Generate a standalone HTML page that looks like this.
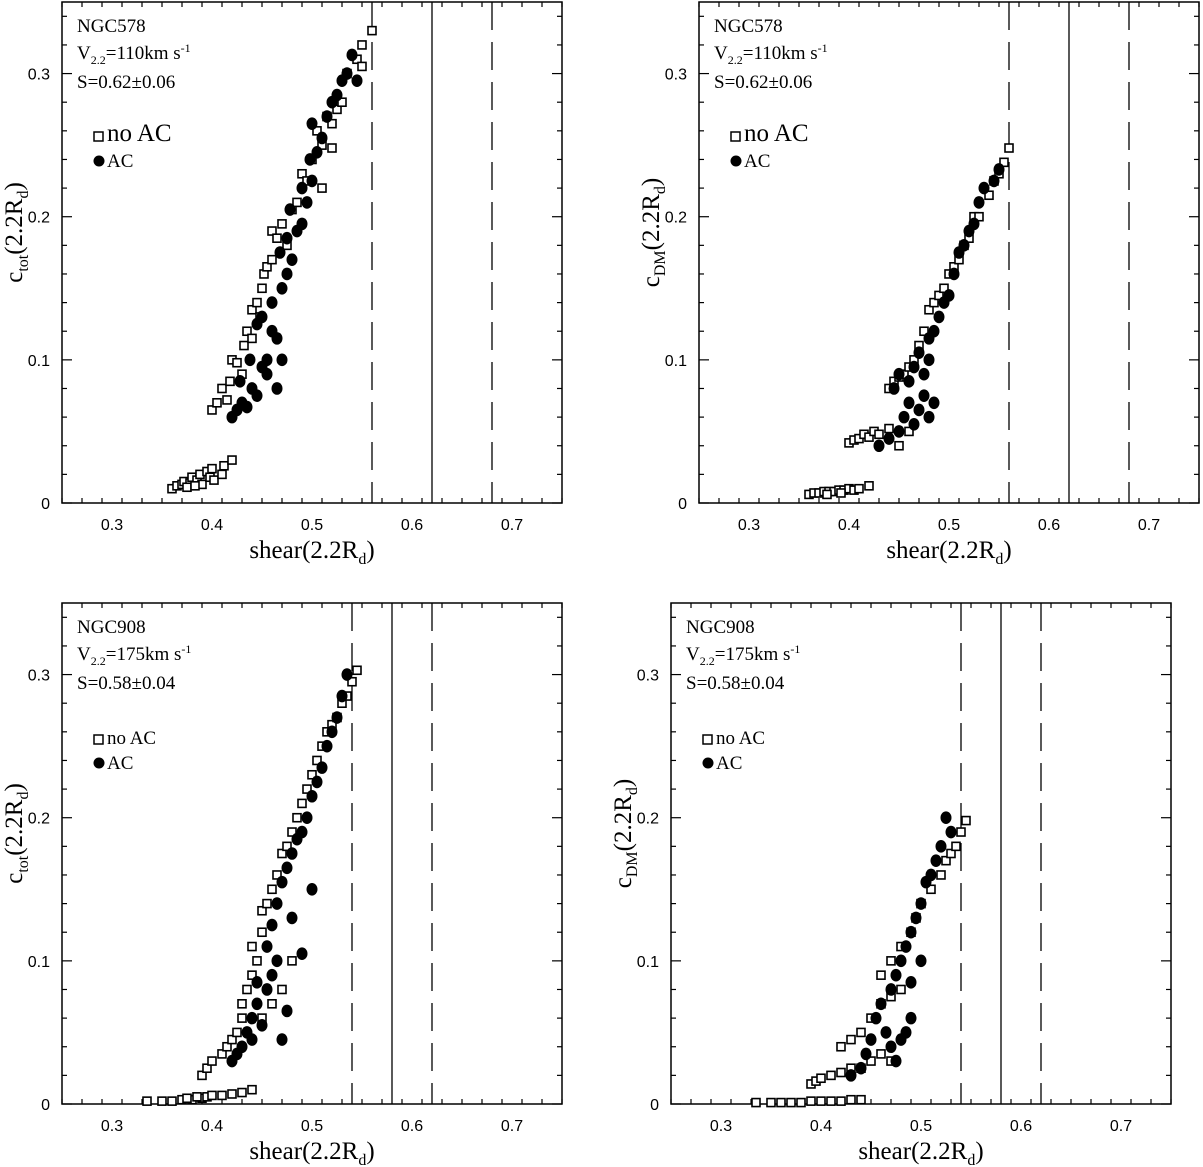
<!DOCTYPE html>
<html><head><meta charset="utf-8"><style>
body{margin:0;background:#fff}
svg{display:block}
.tick{font-family:"Liberation Sans",sans-serif;font-size:16px}
.ser{font-family:"Liberation Serif",serif}
</style></head><body>
<svg id="fig" width="1203" height="1167" xmlns="http://www.w3.org/2000/svg"></svg>
<script>
const xTicks=[0.3,0.4,0.5,0.6,0.7];
const xTickLabels=["0.3","0.4","0.5","0.6","0.7"];
const yTicks=[0,0.1,0.2,0.3];
const yTickLabels=["0","0.1","0.2","0.3"];
const tlNoAC=[[0.36,0.010],[0.365,0.012],[0.37,0.013],[0.372,0.015],[0.378,0.014],[0.38,0.018],[0.385,0.016],[0.388,0.020],[0.39,0.013],[0.395,0.022],[0.398,0.018],[0.40,0.024],[0.402,0.016],[0.41,0.020],[0.412,0.026],[0.42,0.030],[0.375,0.011],[0.383,0.012],
[0.40,0.065],[0.405,0.07],[0.41,0.08],[0.415,0.072],[0.418,0.085],[0.42,0.10],[0.425,0.098],[0.43,0.09],[0.432,0.11],[0.435,0.12],[0.44,0.115],[0.44,0.135],[0.445,0.14],[0.448,0.13],[0.45,0.15],[0.452,0.16],[0.455,0.165],[0.46,0.17],[0.46,0.19],[0.465,0.185],[0.47,0.195],[0.475,0.18],[0.48,0.205],[0.485,0.21],[0.49,0.23],[0.495,0.225],[0.50,0.24],[0.505,0.26],[0.51,0.22],[0.51,0.25],[0.515,0.27],[0.52,0.265],[0.525,0.275],[0.53,0.28],[0.535,0.30],[0.545,0.31],[0.55,0.305],[0.55,0.32],[0.56,0.33],[0.52,0.248]];
const tlAC=[[0.42,0.06],[0.425,0.065],[0.43,0.07],[0.435,0.067],[0.428,0.085],[0.44,0.08],[0.445,0.075],[0.438,0.10],[0.45,0.095],[0.455,0.10],[0.46,0.12],[0.445,0.125],[0.45,0.13],[0.465,0.115],[0.47,0.10],[0.46,0.14],[0.47,0.15],[0.475,0.16],[0.468,0.175],[0.48,0.17],[0.475,0.185],[0.485,0.19],[0.49,0.195],[0.478,0.205],[0.495,0.21],[0.49,0.22],[0.50,0.225],[0.498,0.24],[0.505,0.245],[0.51,0.255],[0.50,0.265],[0.515,0.27],[0.52,0.28],[0.525,0.285],[0.53,0.295],[0.535,0.30],[0.54,0.313],[0.545,0.295],[0.465,0.08],[0.455,0.09]];
const trNoAC=[[0.36,0.006],[0.365,0.007],[0.37,0.007],[0.375,0.008],[0.38,0.008],[0.385,0.008],[0.39,0.009],[0.395,0.009],[0.40,0.010],[0.405,0.009],[0.41,0.010],[0.42,0.012],[0.378,0.006],[0.392,0.007],
[0.40,0.042],[0.405,0.044],[0.41,0.045],[0.415,0.048],[0.42,0.046],[0.425,0.05],[0.43,0.048],[0.44,0.052],[0.44,0.08],[0.445,0.085],[0.45,0.088],[0.455,0.09],[0.46,0.095],[0.465,0.10],[0.47,0.11],[0.475,0.12],[0.48,0.135],[0.485,0.14],[0.49,0.145],[0.495,0.15],[0.50,0.16],[0.505,0.165],[0.51,0.17],[0.515,0.18],[0.52,0.185],[0.525,0.20],[0.53,0.20],[0.54,0.215],[0.545,0.225],[0.55,0.23],[0.555,0.238],[0.56,0.248],[0.45,0.04],[0.46,0.05]];
const trAC=[[0.43,0.04],[0.44,0.045],[0.45,0.05],[0.455,0.06],[0.46,0.07],[0.465,0.055],[0.47,0.065],[0.475,0.075],[0.48,0.06],[0.485,0.07],[0.46,0.085],[0.465,0.095],[0.47,0.105],[0.475,0.09],[0.48,0.10],[0.485,0.12],[0.48,0.115],[0.49,0.13],[0.495,0.14],[0.50,0.145],[0.505,0.16],[0.51,0.175],[0.515,0.18],[0.52,0.19],[0.525,0.195],[0.53,0.21],[0.535,0.22],[0.545,0.225],[0.55,0.233],[0.445,0.08],[0.45,0.09]];
const blNoAC=[[0.335,0.002],[0.35,0.002],[0.36,0.002],[0.37,0.003],[0.38,0.003],[0.39,0.004],[0.395,0.005],[0.40,0.006],[0.41,0.006],[0.42,0.007],[0.43,0.008],[0.44,0.01],[0.375,0.004],[0.385,0.005],
[0.39,0.02],[0.395,0.025],[0.40,0.03],[0.41,0.035],[0.415,0.04],[0.42,0.045],[0.425,0.05],[0.43,0.06],[0.43,0.07],[0.435,0.08],[0.44,0.09],[0.445,0.10],[0.44,0.11],[0.45,0.12],[0.45,0.135],[0.455,0.14],[0.46,0.15],[0.465,0.16],[0.47,0.175],[0.475,0.18],[0.48,0.19],[0.485,0.20],[0.49,0.21],[0.495,0.22],[0.50,0.23],[0.505,0.24],[0.51,0.25],[0.515,0.26],[0.52,0.265],[0.525,0.27],[0.53,0.28],[0.535,0.285],[0.54,0.295],[0.545,0.303],[0.46,0.07],[0.47,0.08],[0.45,0.06],[0.48,0.10]];
const blAC=[[0.42,0.03],[0.425,0.035],[0.43,0.04],[0.435,0.05],[0.44,0.045],[0.44,0.06],[0.445,0.07],[0.45,0.055],[0.455,0.08],[0.46,0.09],[0.465,0.10],[0.47,0.045],[0.475,0.065],[0.455,0.11],[0.46,0.125],[0.465,0.14],[0.47,0.155],[0.475,0.165],[0.48,0.175],[0.485,0.185],[0.49,0.19],[0.49,0.105],[0.495,0.20],[0.50,0.215],[0.50,0.15],[0.505,0.225],[0.51,0.235],[0.515,0.25],[0.52,0.26],[0.525,0.27],[0.53,0.285],[0.535,0.30],[0.48,0.13],[0.445,0.085]];
const brNoAC=[[0.335,0.001],[0.35,0.001],[0.36,0.001],[0.37,0.001],[0.38,0.001],[0.39,0.002],[0.40,0.002],[0.41,0.002],[0.42,0.002],[0.43,0.003],[0.44,0.003],
[0.39,0.014],[0.395,0.016],[0.40,0.018],[0.41,0.02],[0.42,0.022],[0.43,0.025],[0.44,0.025],[0.42,0.04],[0.43,0.045],[0.44,0.05],[0.45,0.06],[0.46,0.07],[0.47,0.075],[0.48,0.08],[0.46,0.09],[0.47,0.10],[0.48,0.11],[0.49,0.12],[0.495,0.13],[0.50,0.14],[0.51,0.15],[0.52,0.16],[0.525,0.17],[0.53,0.175],[0.535,0.18],[0.54,0.19],[0.545,0.198],[0.45,0.03],[0.46,0.035],[0.47,0.03]];
const brAC=[[0.43,0.02],[0.44,0.025],[0.445,0.035],[0.45,0.045],[0.455,0.06],[0.46,0.07],[0.465,0.05],[0.47,0.04],[0.475,0.03],[0.48,0.045],[0.485,0.05],[0.49,0.06],[0.47,0.08],[0.475,0.09],[0.48,0.10],[0.485,0.11],[0.49,0.12],[0.495,0.13],[0.50,0.14],[0.505,0.155],[0.51,0.16],[0.515,0.17],[0.52,0.18],[0.53,0.19],[0.525,0.2],[0.49,0.085],[0.5,0.1]];
const tlLines=[0.56,0.62,0.68], trLines=[0.56,0.62,0.68], blLines=[0.54,0.58,0.62], brLines=[0.54,0.58,0.62];

const NS="http://www.w3.org/2000/svg";
const svg=document.getElementById('fig');
function mk(tag,attrs,parent,text){const e=document.createElementNS(NS,tag);for(const k in attrs)e.setAttribute(k,attrs[k]);if(text!==undefined)e.textContent=text;parent.appendChild(e);return e;}

const panels=[
 {id:'top-left',L:62,T:2,ylab:'tot',gal:'NGC578',v:'110',s:'0.62±0.06',big:true,noac:tlNoAC,ac:tlAC,lines:tlLines},
 {id:'top-right',L:699,T:2,ylab:'DM',gal:'NGC578',v:'110',s:'0.62±0.06',big:true,noac:trNoAC,ac:trAC,lines:trLines},
 {id:'bottom-left',L:62,T:603,ylab:'tot',gal:'NGC908',v:'175',s:'0.58±0.04',big:false,noac:blNoAC,ac:blAC,lines:blLines},
 {id:'bottom-right',L:671,T:603,ylab:'DM',gal:'NGC908',v:'175',s:'0.58±0.04',big:false,noac:brNoAC,ac:brAC,lines:brLines}
];
panels.forEach(p=>{
 const W=500,H=501;
 const g=mk('g',{},svg);
 
 
 const X=v=>p.L+(v-0.25)/0.5*W;
 const Y=v=>p.T+H-v/0.35*H;
 const B=p.T+H;
 p.lines.forEach((v,i)=>{
  const ln=mk('line',{x1:X(v),x2:X(v),y1:p.T,y2:B,stroke:'#000','stroke-width':1.3,'stroke-dasharray':i===1?'none':'28,12'},g);
  
  
 });
 for(let k=0;k<=25;k++){const v=0.25+k*0.02;const x=X(v);const maj=Math.abs((v*10)-Math.round(v*10))<1e-6;const len=maj?10:5;
  mk('line',{x1:x,x2:x,y1:B,y2:B-len,stroke:'#000','stroke-width':1.2},g);
  mk('line',{x1:x,x2:x,y1:p.T,y2:p.T+len,stroke:'#000','stroke-width':1.2},g);}
 for(let k=0;k<=17;k++){const v=k*0.02;const y=Y(v);const maj=Math.abs(v*10-Math.round(v*10))<1e-6;const len=maj?10:5;
  mk('line',{x1:p.L,x2:p.L+len,y1:y,y2:y,stroke:'#000','stroke-width':1.2},g);
  mk('line',{x1:p.L+W,x2:p.L+W-len,y1:y,y2:y,stroke:'#000','stroke-width':1.2},g);}
 const fr=mk('rect',{x:p.L,y:p.T,width:W,height:H,fill:'none',stroke:'#000','stroke-width':1.5},g);
 
 
 xTicks.forEach((v,i)=>{const t=mk('text',{x:X(v),y:B+27,'text-anchor':'middle',class:'tick'},g,xTickLabels[i]);
  
  });
 yTicks.forEach((v,i)=>{const t=mk('text',{x:p.L-12,y:Y(v)+6,'text-anchor':'end',class:'tick'},g,yTickLabels[i]);
  
  });
 const xt=mk('text',{x:p.L+W/2,y:B+55,'text-anchor':'middle',class:'ser','font-size':25},g);
 
 
 xt.innerHTML='shear(2.2R<tspan font-size="16" dy="6">d</tspan><tspan dy="-6">)</tspan>';
 const yt=mk('text',{transform:`translate(${p.L-40},${p.T+H/2-20}) rotate(-90)`,'text-anchor':'middle',class:'ser','font-size':25},g);
 
 
 yt.innerHTML=`c<tspan font-size="16" dy="6">${p.ylab}</tspan><tspan dy="-6">(2.2R</tspan><tspan font-size="16" dy="6">d</tspan><tspan dy="-6">)</tspan>`;
 const a=mk('text',{x:p.L+15,y:p.T+30,class:'ser','font-size':19},g,p.gal);
 
 
 const b=mk('text',{x:p.L+15,y:p.T+57,class:'ser','font-size':19},g);
 
 
 b.innerHTML=`V<tspan font-size="12" dy="5">2.2</tspan><tspan dy="-5">=${p.v}km s</tspan><tspan font-size="12" dy="-7">-1</tspan>`;
 const c=mk('text',{x:p.L+15,y:p.T+86,class:'ser','font-size':19},g,'S='+p.s);
 
 
 const sq=mk('g',{fill:'#fff',stroke:'#000','stroke-width':1.6},g);
 
 
 p.noac.forEach(d=>{const r=mk('rect',{x:X(d[0])-4,y:Y(d[1])-4,width:8,height:8},sq);
  
  });
 const ci=mk('g',{fill:'#000'},g);
 
 
 p.ac.forEach(d=>{const r=mk('ellipse',{cx:X(d[0]),cy:Y(d[1]),rx:5.5,ry:6.3},ci);
  
  });
 const lg=mk('g',{},g);
 
 
 const ly1=p.big?p.T+138:p.T+140, ly2=p.big?p.T+164:p.T+165;
 mk('rect',{x:p.L+32,y:ly1-8,width:9,height:9,fill:'#fff',stroke:'#000','stroke-width':1.5},lg);
 const l1=mk('text',{x:p.L+45,y:ly1+1,class:'ser','font-size':p.big?25:19},lg,'no AC');
 
 
 mk('circle',{cx:p.L+37,cy:ly2-5,r:5.5,fill:'#000'},lg);
 const l2=mk('text',{x:p.L+45,y:ly2+1,class:'ser','font-size':19},lg,'AC');
 
 
});
</script>
</body></html>
